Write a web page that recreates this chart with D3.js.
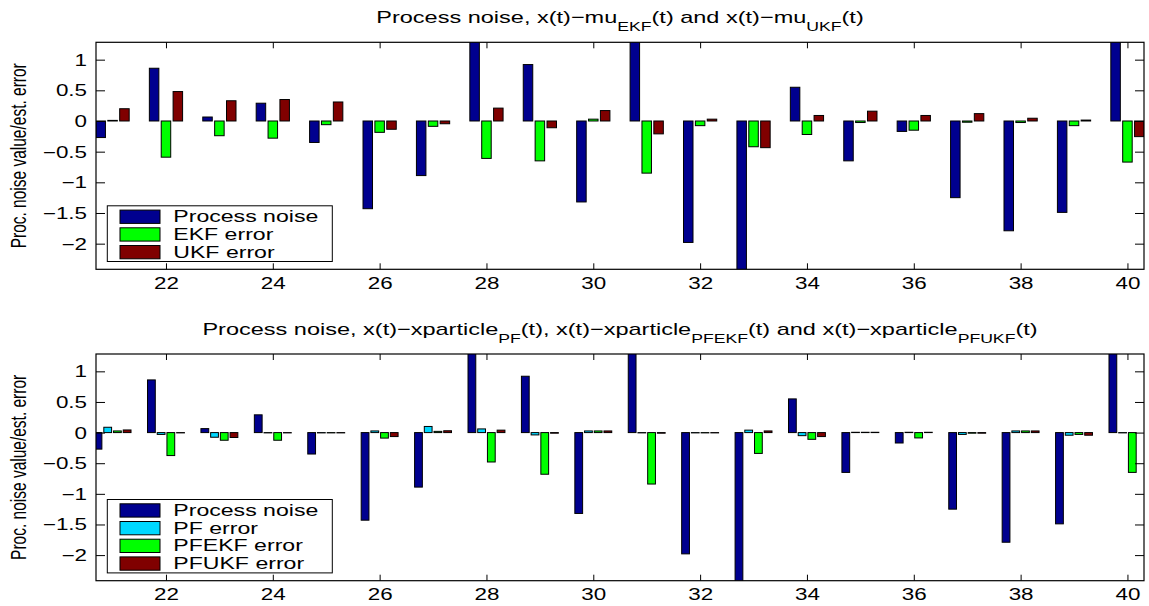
<!DOCTYPE html>
<html>
<head>
<meta charset="utf-8">
<script src="https://cdn.jsdelivr.net/npm/d3@7"></script>
<style>
  html, body { margin: 0; padding: 0; background: #fff; }
  svg { display: block; font-family: "Liberation Sans", Arial, Helvetica, sans-serif; }
</style>
</head>
<body>
<script>
// Time steps shown on the x axis
const steps = [21, 22, 23, 24, 25, 26, 27, 28, 29, 30, 31, 32, 33, 34, 35, 36, 37, 38, 39, 40];

// Process noise realisation (shared by both panels)
const processNoise = [-0.27, 0.86, 0.065, 0.29, -0.35, -1.43, -0.89, 1.47, 0.92, -1.32,
                      1.63, -1.98, -2.56, 0.55, -0.65, -0.17, -1.25, -1.79, -1.49, 1.71];

// Estimation errors, Kalman filters: x(t) - mu(t)
const ekfError = [0.01, -0.59, -0.24, -0.28, -0.06, -0.185, -0.087, -0.61, -0.65, 0.03,
                  -0.85, -0.076, -0.42, -0.22, -0.025, -0.15, -0.02, -0.025, -0.076, -0.67];
const ukfError = [0.20, 0.48, 0.33, 0.35, 0.31, -0.135, -0.045, 0.21, -0.11, 0.17,
                  -0.21, 0.03, -0.435, 0.09, 0.16, 0.09, 0.12, 0.045, 0.015, -0.255];

// Estimation errors, particle filters: x(t) - xparticle(t)
const pfError = [0.087, -0.03, -0.076, -0.005, -0.005, 0.027, 0.10, 0.06, -0.038, 0.027,
                 -0.005, -0.005, 0.04, -0.05, 0.005, 0.005, -0.03, 0.027, -0.043, -0.005];
const pfekfError = [0.027, -0.375, -0.125, -0.125, -0.005, -0.09, 0.02, -0.48, -0.68, 0.027,
                    -0.84, -0.005, -0.34, -0.11, 0.005, -0.087, -0.01, 0.027, -0.03, -0.65];
const pfukfError = [0.043, -0.005, -0.08, -0.005, -0.005, -0.065, 0.03, 0.04, -0.01, 0.027,
                    -0.01, -0.005, 0.027, -0.065, 0.005, 0.005, -0.01, 0.027, -0.043, 0.0];

// Axis ticks and limits
const xTicks = [22, 24, 26, 28, 30, 32, 34, 36, 38, 40];
const yTicks = [-2, -1.5, -1, -0.5, 0, 0.5, 1];
const xDomain = [20.69, 40.31];
const yDomain = [-2.418, 1.283];

// Series names and colours
const kalmanNames = ["Process noise", "EKF error", "UKF error"];
const particleNames = ["Process noise", "PF error", "PFEKF error", "PFUKF error"];
const colBlue = "#00008f", colCyan = "#00d8ff", colGreen = "#00ff00", colRed = "#800000";

const W = 1149, H = 606;
const SX = 1.4;              // horizontal text stretch
const xLeft = 96, xRight = 1144;
const MINUS = "\u2212";

const svg = d3.select("body").append("svg").attr("width", W).attr("height", H);
svg.append("rect").attr("width", W).attr("height", H).attr("fill", "#fff");

const fmtY = v => (v < 0 ? MINUS + Math.abs(v) : String(v));

function panel(id, top, bottom, series, titleParts) {
  const g = svg.append("g");
  const x = d3.scaleLinear().domain(xDomain).range([xLeft, xRight]);
  const y = d3.scaleLinear().domain(yDomain).range([bottom, top]);

  // grouped bar layout: group width n/(n+1.5), each bar 80% of its slot
  const n = series.length;
  const gw = Math.min(0.8, n / (n + 1.5));
  const sub = d3.scaleBand().domain(series.map(s => s.name))
    .range([-gw / 2, gw / 2]).paddingInner(0.2).paddingOuter(0.1);

  g.append("clipPath").attr("id", id)
    .append("rect").attr("x", xLeft).attr("y", top)
    .attr("width", xRight - xLeft).attr("height", bottom - top);

  const bars = g.append("g").attr("clip-path", `url(#${id})`);
  series.forEach(s => {
    bars.append("g").selectAll("rect")
      .data(steps.map((t, i) => ({ t, v: s.values[i] })))
      .join("rect")
      .attr("x", d => x(d.t + sub(s.name)))
      .attr("width", d => x(d.t + sub(s.name) + sub.bandwidth()) - x(d.t + sub(s.name)))
      .attr("y", d => y(Math.max(0, d.v)))
      .attr("height", d => Math.abs(y(d.v) - y(0)))
      .attr("fill", s.color)
      .attr("stroke", "#000")
      .attr("stroke-width", 1);
  });

  // axes with inward ticks on all four sides
  const styleText = sel => sel.selectAll("text")
    .attr("font-size", 16)
    .attr("font-family", "Liberation Sans, Arial, sans-serif")
    .attr("fill", "#000");

  g.append("g").attr("transform", `translate(0,${bottom})`)
    .call(d3.axisBottom(x).tickValues(xTicks).tickSize(-6).tickFormat(d => d))
    .call(a => a.select(".domain").remove())
    .call(styleText)
    .call(a => a.selectAll("text").attr("y", 8).attr("dy", "0.71em")
      .attr("transform", `scale(${SX},1)`));

  g.append("g").attr("transform", `translate(0,${top})`)
    .call(d3.axisTop(x).tickValues(xTicks).tickSize(-6).tickFormat(""))
    .call(a => a.select(".domain").remove());

  g.append("g").attr("transform", `translate(${xLeft},0)`)
    .call(d3.axisLeft(y).tickValues(yTicks).tickSize(-9).tickFormat(fmtY))
    .call(a => a.select(".domain").remove())
    .call(styleText)
    .call(a => a.selectAll("text").attr("x", -9 / SX).attr("dy", "0.34em")
      .attr("transform", `scale(${SX},1)`));

  g.append("g").attr("transform", `translate(${xRight},0)`)
    .call(d3.axisRight(y).tickValues(yTicks).tickSize(-9).tickFormat(""))
    .call(a => a.select(".domain").remove());

  g.append("rect")
    .attr("x", xLeft).attr("y", top)
    .attr("width", xRight - xLeft).attr("height", bottom - top)
    .attr("fill", "none").attr("stroke", "#000").attr("stroke-width", 1.2);

  // y label
  g.append("text")
    .attr("transform", `translate(26,${(top + bottom) / 2}) scale(${SX},1) rotate(-90)`)
    .attr("text-anchor", "middle")
    .attr("font-size", 15.5)
    .text("Proc. noise value/est. error");

  // title with subscripts
  const title = g.append("text")
    .attr("transform", `translate(${(xLeft + xRight) / 2},${top - 19}) scale(${SX},1)`)
    .attr("text-anchor", "middle")
    .attr("font-size", 16.8);
  let shifted = false;
  titleParts.forEach(p => {
    const ts = title.append("tspan").text(p.text);
    if (p.sub) { ts.attr("font-size", 12.6).attr("dy", 8); shifted = true; }
    else if (shifted) { ts.attr("dy", -8); shifted = false; }
  });

  // legend
  const rowH = 17.7;
  const boxH = 20.3 + (n - 1) * rowH;
  const boxTop = bottom - 7.8 - boxH;
  const lg = g.append("g");
  lg.append("rect").attr("x", 107.3).attr("y", boxTop).attr("width", 225).attr("height", boxH)
    .attr("fill", "#fff").attr("stroke", "#000").attr("stroke-width", 1);
  series.forEach((s, i) => {
    const ry = boxTop + 4.3 + i * rowH;
    lg.append("rect").attr("x", 120).attr("y", ry).attr("width", 40).attr("height", 13.3)
      .attr("fill", s.color).attr("stroke", "#000").attr("stroke-width", 1);
    lg.append("text")
      .attr("transform", `translate(173.3,${ry + 12}) scale(${SX},1)`)
      .attr("font-size", 16.5)
      .text(s.name);
  });
}

panel("clipTop", 42.3, 269.3, [
  { name: kalmanNames[0], values: processNoise, color: colBlue },
  { name: kalmanNames[1], values: ekfError, color: colGreen },
  { name: kalmanNames[2], values: ukfError, color: colRed }
], [
  { text: "Process noise, x(t)" + MINUS + "mu" }, { text: "EKF", sub: true },
  { text: "(t) and x(t)" + MINUS + "mu" }, { text: "UKF", sub: true }, { text: "(t)" }
]);

panel("clipBottom", 354, 580.7, [
  { name: particleNames[0], values: processNoise, color: colBlue },
  { name: particleNames[1], values: pfError, color: colCyan },
  { name: particleNames[2], values: pfekfError, color: colGreen },
  { name: particleNames[3], values: pfukfError, color: colRed }
], [
  { text: "Process noise, x(t)" + MINUS + "xparticle" }, { text: "PF", sub: true },
  { text: "(t), x(t)" + MINUS + "xparticle" }, { text: "PFEKF", sub: true },
  { text: "(t) and x(t)" + MINUS + "xparticle" }, { text: "PFUKF", sub: true }, { text: "(t)" }
]);
</script>
</body>
</html>
